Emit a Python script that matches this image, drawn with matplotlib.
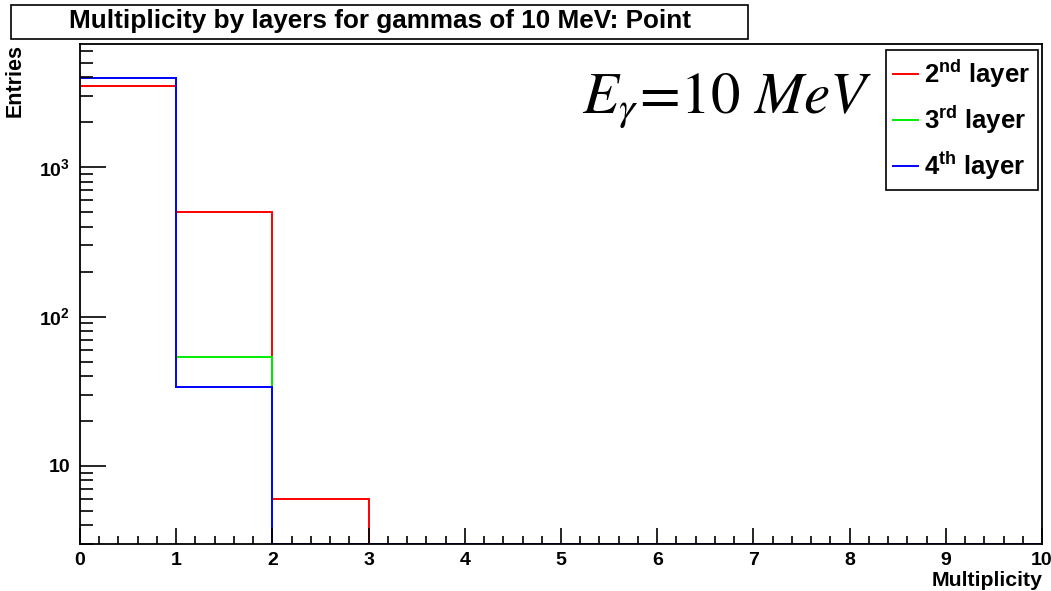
import numpy as np
import matplotlib
matplotlib.use("Agg")
import matplotlib.pyplot as plt
from matplotlib.patches import Rectangle
from matplotlib.ticker import FixedLocator, FixedFormatter, MultipleLocator, LogLocator

plt.rcParams["font.family"] = ["Liberation Sans", "DejaVu Sans"]
plt.rcParams["mathtext.fontset"] = "custom"
plt.rcParams["mathtext.rm"] = "Liberation Sans:bold"
plt.rcParams["mathtext.bf"] = "Liberation Sans:bold"
plt.rcParams["mathtext.it"] = "Liberation Sans:bold"

# histogram contents, one bin per multiplicity value 0..9
edges = np.arange(0, 11)
layer2 = [3488, 506, 6, 0, 0, 0, 0, 0, 0, 0]
layer3 = [3946, 54, 0, 0, 0, 0, 0, 0, 0, 0]
layer4 = [3966, 34, 0, 0, 0, 0, 0, 0, 0, 0]
labels = [r"2$^{\mathrm{nd}}$ layer", r"3$^{\mathrm{rd}}$ layer", r"4$^{\mathrm{th}}$ layer"]
colors = ["#ff0000", "#00ee00", "#0000ff"]

ymin, ymax = 3.0, 6700

fig = plt.figure(figsize=(10.51, 5.91), dpi=100)
W, H = 1051, 591
ax = fig.add_axes([80 / W, 1 - 544 / H, (1042 - 80) / W, (544 - 44) / H])

for vals, col, lab in zip([layer2, layer3, layer4], colors, labels):
    # empty bins sit on the bottom of the frame like ROOT draws them
    shown = np.clip(np.asarray(vals, float), ymin, None)
    ax.stairs(shown, edges, color=col, lw=1.4, label=lab, baseline=None)

ax.set_yscale("log")
ax.set_xlim(0, 10)
ax.set_ylim(ymin, ymax)

ax.xaxis.set_major_locator(MultipleLocator(1))
ax.xaxis.set_minor_locator(MultipleLocator(0.2))
ax.yaxis.set_major_locator(FixedLocator([10, 100, 1000]))
ax.yaxis.set_major_formatter(FixedFormatter(["10", r"10$^{2}$", r"10$^{3}$"]))
ax.yaxis.set_minor_locator(LogLocator(base=10, subs=np.arange(2, 10)))
ax.yaxis.set_minor_formatter(FixedFormatter([]))

ax.tick_params(which="both", direction="in", top=False, right=False, width=1.2, colors="black")
ax.tick_params(axis="x", which="major", length=11.5, pad=6, labelsize=14)
ax.tick_params(axis="x", which="minor", length=5.8)
ax.tick_params(axis="y", which="major", length=19, pad=7, labelsize=14)
ax.tick_params(axis="y", which="minor", length=9.5)
for lab in ax.get_xticklabels() + ax.get_yticklabels():
    lab.set_fontweight("bold")
for sp in ax.spines.values():
    sp.set_linewidth(1.3)

leg = ax.legend(loc="upper right", bbox_to_anchor=(1 - 4 / 962, 1 - 6 / 500),
                prop={"size": 18.5, "weight": "bold"},
                handlelength=0.95, handletextpad=0.25, borderpad=0.3, labelspacing=0.55,
                fancybox=False, framealpha=1, borderaxespad=0)
leg.get_frame().set_edgecolor("black")
leg.get_frame().set_linewidth(1.2)

fig.text(582 / W, 1 - 113 / H, r"$E_{\gamma}\!=\!10\ MeV$", fontsize=42.5, fontweight="normal",
         math_fontfamily="stix", ha="left", va="baseline")

# title box
fig.patches.append(Rectangle((11 / W, 1 - 39 / H), (748 - 11) / W, 34 / H,
                             transform=fig.transFigure, fill=False, ec="black", lw=1.2))
fig.text(380 / W, 1 - 21 / H, "Multiplicity by layers for gammas of 10 MeV: Point",
         ha="center", va="center", fontsize=18.8, fontweight="bold")

fig.text(15 / W, 1 - 44 / H, "Entries", rotation=90, ha="center", va="top",
         fontsize=15.5, fontweight="bold")
fig.text(1043 / W, 1 - 586 / H, "Multiplicity", ha="right", va="baseline",
         fontsize=15.3, fontweight="bold")

fig.savefig("out.png", dpi=100)
